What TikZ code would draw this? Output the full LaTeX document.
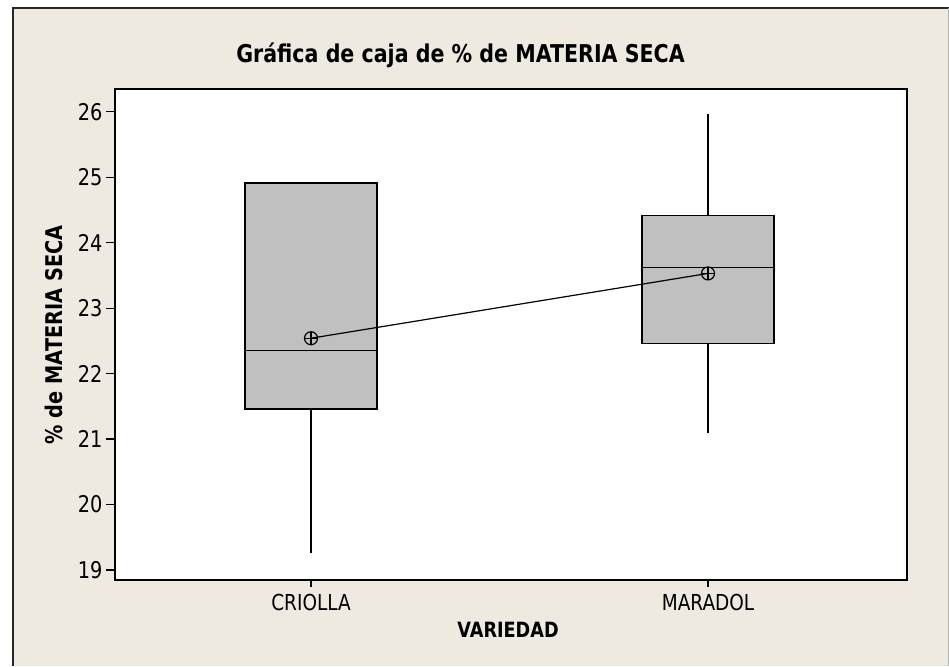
\documentclass[tikz,border=0pt]{standalone}
\usepackage{fontspec}
\setmainfont{DejaVu Sans}[FakeStretch=0.84]
\usetikzlibrary{positioning}
\definecolor{fondo}{RGB}{238,234,224}
\definecolor{caja}{RGB}{192,192,192}
\newcommand{\yv}[1]{570-(#1-19)*65.47}
\newcommand{\tam}[1]{\fontsize{#1}{#1}\selectfont}

\begin{document}
\begin{tikzpicture}[x=1pt,y=-1pt,line width=1.2pt,
	media/.style={circle,draw,minimum size=13pt,inner sep=0pt,
		path picture={\draw (path picture bounding box.north) -- (path picture bounding box.south)
			(path picture bounding box.west) -- (path picture bounding box.east);}}]
	\useasboundingbox (0,0) rectangle (949,666);
	\fill[fondo] (13,8) rectangle (949,666);
	\draw[line width=1.6pt,black!85] (13,666) -- (13,8) -- (949,8);
	\draw[black!30] (948.5,8) -- (948.5,666);
	\node[font=\bfseries\tam{24.5},anchor=base] (titulo) at (460.5,63) {Gráfica de caja de \% de MATERIA SECA};
	\node[draw,fill=white,line width=1.6pt,minimum width=792pt,minimum height=491pt,anchor=north west,inner sep=0pt] (P) at (114,88) {};
	\foreach \v in {19,...,26}
		\draw (P.west |- 0,{\yv{\v}}) -- ++(-8,0) node[anchor=east,inner sep=3pt,font=\tam{23}] (T\v) {\v};
	\foreach \xc/\nom [count=\n] in {311/CRIOLLA,708/MARADOL}{
		\draw (\xc,579) -- (\xc,587);
		\node[anchor=base,font=\tam{22}] (C\n) at (\xc,610) {\nom};
	}
	\node[font=\bfseries\tam{21},anchor=base] (ejex) at (508,637) {VARIEDAD};
	\node[font=\bfseries\tam{23},rotate=90,anchor=base] (ejey) at (62,335) {\% de MATERIA SECA};
	\foreach \xc/\lo/\qa/\me/\qc/\hi/\mu [count=\n] in {311/19.26/21.46/22.35/24.91/24.91/22.54,708/21.09/22.46/23.62/24.41/25.97/23.53}{
		\draw (\xc,{\yv{\lo}}) -- (\xc,{\yv{\qa}});
		\draw (\xc,{\yv{\qc}}) -- (\xc,{\yv{\hi}});
		\draw[fill=caja] (\xc-66,{\yv{\qa}}) rectangle (\xc+66,{\yv{\qc}});
		\draw (\xc-66,{\yv{\me}}) -- (\xc+66,{\yv{\me}});
		\node[media] (M\n) at (\xc,{\yv{\mu}}) {};
	}
	\draw (M1.center) -- (M2.center);
\end{tikzpicture}
\end{document}
